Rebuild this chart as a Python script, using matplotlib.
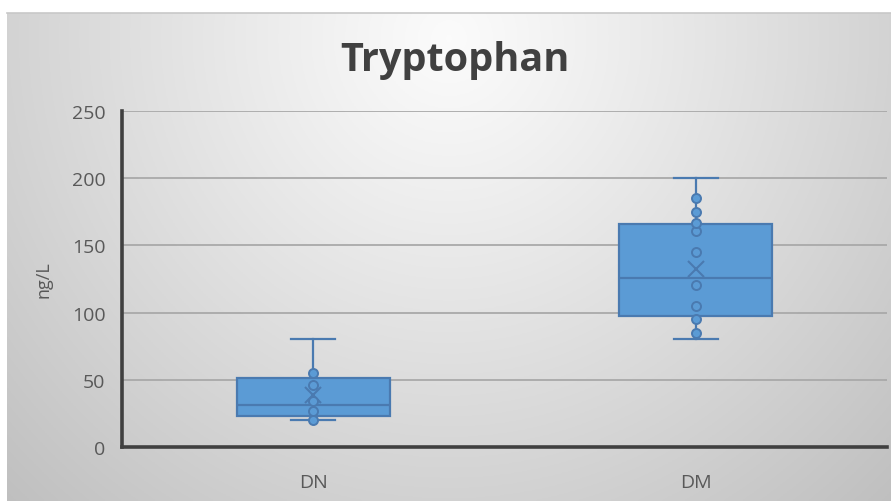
import numpy as np
import matplotlib
matplotlib.use("Agg")
import matplotlib.pyplot as plt

categories = ["DN", "DM"]
q1 = [23, 97.5]
median = [31, 125.5]
q3 = [51.5, 166]
whisker_low = [20, 80]
whisker_high = [80, 200]
means = [39, 132.5]
points = [
    [20, 27, 34, 46, 55],
    [85, 95, 105, 120.5, 145, 160.5, 166.5, 175, 185.5],
]
yticks = [0, 50, 100, 150, 200, 250]

plt.rcParams['font.family'] = ['Open Sans', 'DejaVu Sans']

W, H = 891, 502
fig = plt.figure(figsize=(W / 100, H / 100), dpi=100)
fig.patch.set_facecolor('white')

# background gradient panel
bg = fig.add_axes([7 / W, 0, 1 - 7 / W, 1 - 14 / H])
bg.set_axis_off()
ny, nx = 200, 400
yy, xx = np.mgrid[0:1:ny * 1j, 0:1:nx * 1j]
d = np.sqrt(((xx - 0.5) / 0.62) ** 2 + ((yy - 0.05) / 1.15) ** 2)
v = 0.985 - 0.20 * np.clip(d, 0, 1.3) ** 1.1
img = np.dstack([v, v, v])
bg.imshow(img, extent=[0, 1, 0, 1], origin='upper', aspect='auto')
bg.plot([0, 1], [1, 1], color='#c8c8c8', lw=1.2, transform=bg.transAxes, clip_on=False)
bg.set_xlim(0, 1)
bg.set_ylim(0, 1)

ax = fig.add_axes([122 / W, 1 - 448 / H, (887 - 122) / W, (448 - 112) / H])
ax.set_facecolor('none')

box_face = '#5b9bd5'
box_edge = '#4a7ab0'
positions = [0.5, 1.5]
stats = []
for i, c in enumerate(categories):
    stats.append(dict(label=c, q1=q1[i], med=median[i], q3=q3[i],
                      whislo=whisker_low[i], whishi=whisker_high[i],
                      mean=means[i], fliers=[]))

ax.bxp(stats, positions=positions, widths=0.4, patch_artist=True,
       showmeans=True, showfliers=False,
       boxprops=dict(facecolor=box_face, edgecolor=box_edge, linewidth=1.6),
       medianprops=dict(color=box_edge, linewidth=1.6),
       whiskerprops=dict(color=box_edge, linewidth=1.6),
       capprops=dict(color=box_edge, linewidth=1.6),
       capwidths=0.115,
       meanprops=dict(marker='x', markersize=11, markeredgecolor=box_edge,
                      markeredgewidth=1.5),
       zorder=3)

for i, pts in enumerate(points):
    ax.plot([positions[i]] * len(pts), pts, linestyle='none', marker='o',
            markersize=6.5, markerfacecolor=box_face, markeredgecolor=box_edge,
            markeredgewidth=1.4, zorder=4)

ax.set_xlim(0, 2)
ax.set_ylim(0, 250)
ax.set_yticks(yticks)
ax.set_yticklabels([str(t) for t in yticks])
ax.set_xticks(positions)
ax.set_xticklabels(categories)
ax.tick_params(axis='both', length=0, labelsize=14, colors='#595959')
ax.tick_params(axis='x', pad=19)
ax.tick_params(axis='y', pad=12)

for t in yticks[1:]:
    ax.axhline(t, color='#a9a9a9', lw=1.3, zorder=1)

for s in ['top', 'right']:
    ax.spines[s].set_visible(False)
for s in ['left', 'bottom']:
    ax.spines[s].set_color('#404040')
    ax.spines[s].set_linewidth(2.6)
    ax.spines[s].set_zorder(5)

ax.set_ylabel('ng/L', fontsize=13, color='#595959', labelpad=14)

fig.text(455 / W, 1 - 60 / H, 'Tryptophan', fontsize=28.5, fontweight='bold',
         color='#404040', ha='center', va='center')

fig.savefig('out.png', dpi=100)
